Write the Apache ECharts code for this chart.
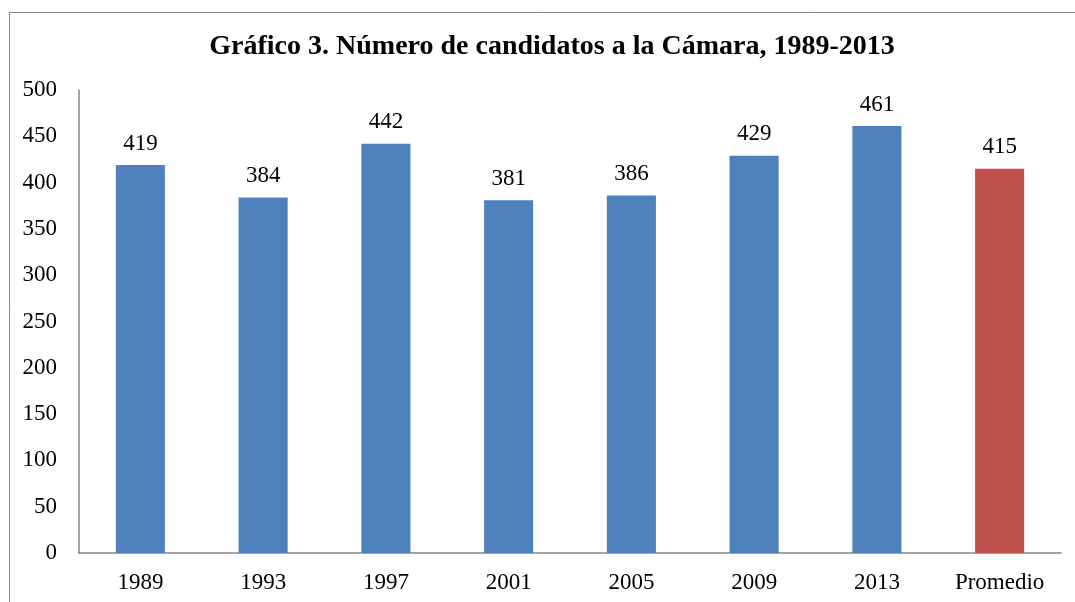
<!DOCTYPE html>
<html>
<head>
<meta charset="utf-8">
<script src="https://cdn.jsdelivr.net/npm/echarts@6/dist/echarts.min.js"></script>
<style>
  html, body { margin: 0; padding: 0; background: #fff; }
  #chart { width: 1075px; height: 602px; }
</style>
</head>
<body>
<div id="chart"></div>
<script>
  // categorías y valores
  const categories = ['1989', '1993', '1997', '2001', '2005', '2009', '2013', 'Promedio'];
  const candidatos = [419, 384, 442, 381, 386, 429, 461, 415];
  const yTicks = [0, 50, 100, 150, 200, 250, 300, 350, 400, 450, 500];

  const serif = '"Liberation Serif", "Times New Roman", serif';
  const chart = echarts.init(document.getElementById('chart'));

  chart.setOption({
    animation: false,
    graphic: [{
      type: 'rect',
      shape: { x: 9.5, y: 12.5, width: 1100, height: 700 },
      style: { fill: 'none', stroke: '#868686', lineWidth: 1 },
      silent: true
    }],
    title: {
      text: 'Gráfico 3. Número de candidatos a la Cámara, 1989-2013',
      left: 547,
      textAlign: 'center',
      top: 28,
      textStyle: { fontFamily: serif, fontWeight: 'bold', fontSize: 28, color: '#000' }
    },
    grid: { left: 79, right: 14, top: 90, bottom: 49, containLabel: false },
    xAxis: {
      type: 'category',
      data: categories,
      axisLine: { lineStyle: { color: '#868686', width: 1.5 } },
      axisTick: { show: false },
      axisLabel: { fontFamily: serif, fontSize: 23, color: '#000', margin: 18 }
    },
    yAxis: {
      type: 'value',
      min: yTicks[0],
      max: yTicks[yTicks.length - 1],
      interval: 50,
      splitLine: { show: false },
      axisLine: { show: true, lineStyle: { color: '#868686', width: 1.5 } },
      axisTick: { show: false },
      axisLabel: { fontFamily: serif, fontSize: 23, color: '#000', margin: 22 }
    },
    series: [{
      type: 'bar',
      barWidth: '40%',
      data: candidatos.map((v, i) => ({
        value: v,
        itemStyle: { color: categories[i] === 'Promedio' ? '#C0504D' : '#4F81BD' }
      })),
      label: {
        show: true,
        position: 'top',
        distance: 10,
        fontFamily: serif,
        fontSize: 23,
        color: '#000'
      }
    }]
  });
</script>
</body>
</html>
